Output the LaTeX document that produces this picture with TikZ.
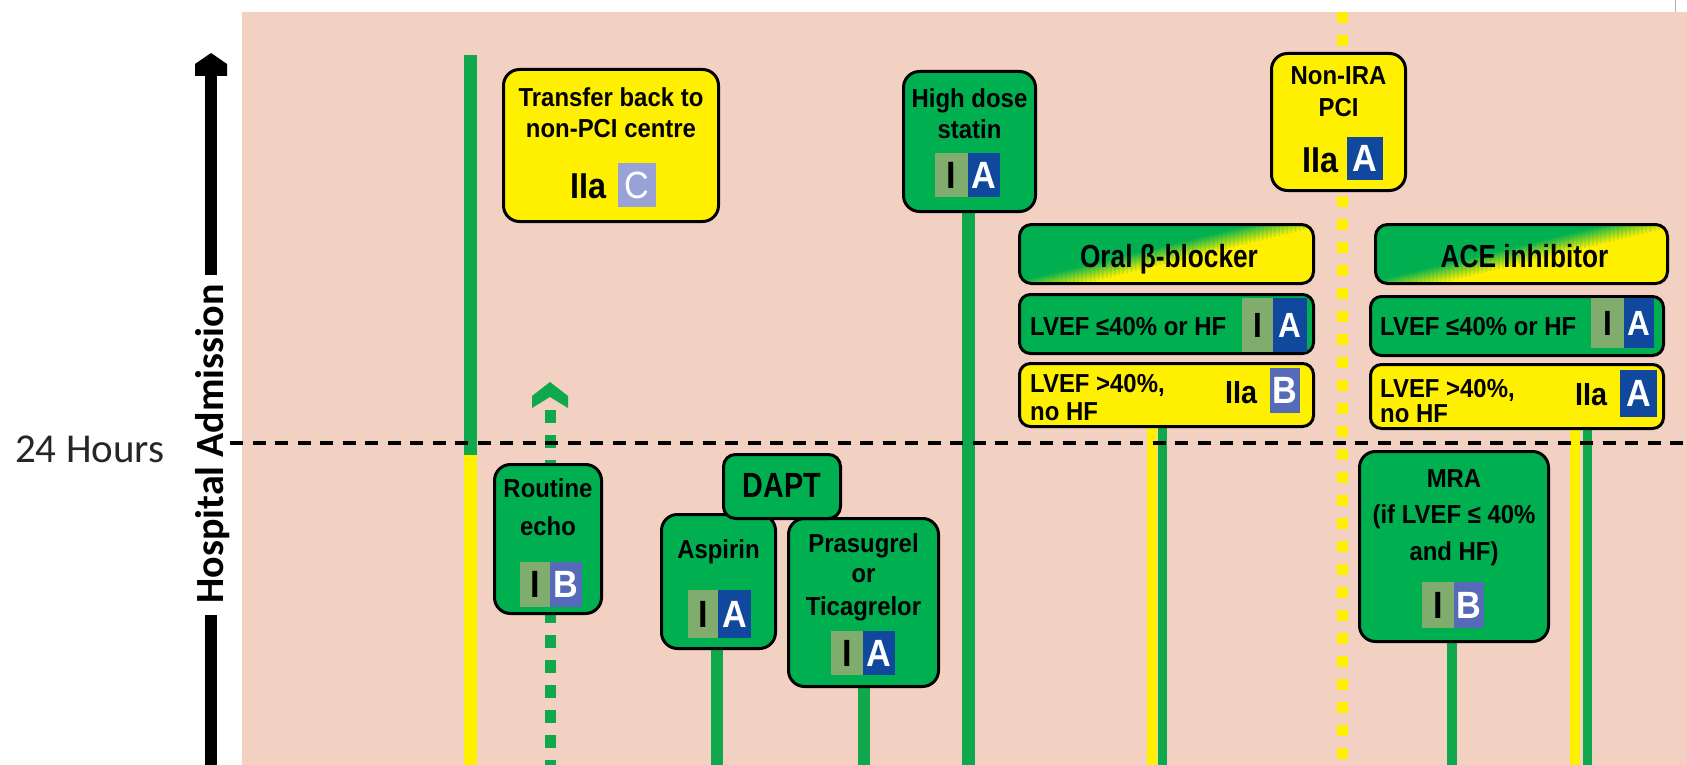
\documentclass[tikz,border=0pt]{standalone}
\usepackage{fontspec}
\setmainfont{Liberation Sans}
\newfontfamily\labfam[FakeStretch=0.92]{Liberation Sans}
\newfontfamily\narfam[FakeStretch=0.82]{Liberation Sans}
\newfontfamily\badfam[FakeStretch=0.9]{Liberation Sans}
\newfontfamily\calfam{Carlito}
\usetikzlibrary{calc}
\pgfdeclarelayer{back}
\pgfdeclarelayer{bg}
\pgfsetlayers{back,bg,main}

\definecolor{pinkbg}{RGB}{242,208,194}
\definecolor{bgreen}{RGB}{0,176,80}
\definecolor{byellow}{RGB}{255,240,0}
\definecolor{lgreen}{RGB}{16,168,76}
\definecolor{icol}{RGB}{128,172,110}
\definecolor{acol}{RGB}{16,72,158}
\definecolor{bcol}{RGB}{86,106,186}
\definecolor{ccol}{RGB}{152,162,214}

\newcommand\labfont{\labfam\bfseries\fontsize{26}{30}\selectfont}
\newcommand\hdrfont{\narfam\bfseries\fontsize{32}{36}\selectfont}
\newcommand\daptfont{\narfam\bfseries\fontsize{35}{40}\selectfont}
\newcommand\cellfont{\badfam\bfseries\fontsize{38}{40}\selectfont}
\newcommand\rowcellfont{\badfam\bfseries\fontsize{35}{38}\selectfont}
\newcommand\iiafont{\badfam\bfseries\fontsize{36}{40}\selectfont}
\newcommand\iiarowfont{\badfam\bfseries\fontsize{32}{36}\selectfont}

% diagonal green-to-yellow fill of a header box: centre x, centre y, half width, half height
\newcommand\headshade[4]{%
  \begin{scope}
    \clip[rounded corners=12pt] (#1-#3,#2-#4) rectangle (#1+#3,#2+#4);
    \fill[bgreen] (#1-#3-5,#2-#4-5) rectangle (#1+#3+5,#2+#4+5);
    \fill[byellow] (#1-200,#2+57.76) -- (#1+200,#2-39.76) -- (#1+200,#2+200) -- (#1-200,#2+200) -- cycle;
    \foreach \k in {0,...,17}{
      \pgfmathsetmacro\gpct{(\k+0.5)/18*100}
      \pgfmathsetmacro\oa{9-\k}
      \pgfmathsetmacro\ob{7.9-\k}
      \fill[bgreen!\gpct!byellow] (#1-200,#2+48.76+\oa) -- (#1+200,#2-48.76+\oa) -- (#1+200,#2-48.76+\ob) -- (#1-200,#2+48.76+\ob) -- cycle;
    }
  \end{scope}}

\tikzset{
 box/.style={draw=black, line width=3pt, rounded corners=16pt, inner sep=0pt, outer sep=0pt},
 gbox/.style={box, fill=bgreen},
 ybox/.style={box, fill=byellow},
 rowg/.style={gbox, rounded corners=11pt},
 rowy/.style={ybox, rounded corners=11pt},
 hbox/.style={box, rounded corners=12pt},
 lab/.style={inner sep=0pt, anchor=base, font=\labfont, text=black},
 labw/.style={lab, anchor=base west},
 hlab/.style={inner sep=0pt, anchor=base, font=\hdrfont, text=black},
 cell/.style={inner sep=0pt, outer sep=0pt, font=\cellfont},
 icell/.style={cell, fill=icol, text=black},
 acell/.style={cell, fill=acol, text=white},
 bcell/.style={cell, fill=bcol, text=white},
 ccell/.style={cell, fill=ccol, text=white},
 iia/.style={inner sep=0pt, anchor=base west, font=\iiafont, text=black},
 gline/.style={draw=lgreen, line width=12pt},
 yline/.style={draw=byellow, line width=10pt},
 axisline/.style={draw=black, line width=12pt},
}

\begin{document}
\begin{tikzpicture}[x=1pt,y=-1pt]
\useasboundingbox (0,0) rectangle (1687,765);
\begin{pgfonlayer}{back}
\fill[white] (0,0) rectangle (1687,765);
\fill[pinkbg] (242,12) rectangle (1687,765);
\draw[black!30, line width=1pt] (1675,0) -- (1675,12);
\end{pgfonlayer}

% ---------- boxes ----------
\node[ybox, minimum width=215pt, minimum height=152pt] (transfer) at (611,145.5) {};
\node[gbox, minimum width=132pt, minimum height=140pt] (statin) at (969.5,141.5) {};
\node[ybox, minimum width=134pt, minimum height=137pt] (nonira) at (1338.5,122) {};
\headshade{1166.5}{254}{147}{29.5}
\node[hbox, minimum width=294pt, minimum height=59pt] (bhead) at (1166.5,254) {};
\node[rowg, minimum width=294pt, minimum height=59pt] (brow1) at (1166.5,324) {};
\node[rowy, minimum width=294pt, minimum height=63pt] (brow2) at (1166.5,395) {};
\headshade{1521.5}{254}{146}{29.5}
\node[hbox, minimum width=292pt, minimum height=59pt] (ahead) at (1521.5,254) {};
\node[rowg, minimum width=293pt, minimum height=59pt] (arow1) at (1517,326) {};
\node[rowy, minimum width=293pt, minimum height=64pt] (arow2) at (1517,396.5) {};
\node[gbox, minimum width=107pt, minimum height=149pt] (echo) at (548,539) {};
\node[gbox, minimum width=114pt, minimum height=134pt] (aspirin) at (718.5,581.5) {};
\node[gbox, minimum width=150pt, minimum height=168pt] (prasu) at (863.5,602.5) {};
\node[gbox, rounded corners=12pt, minimum width=117pt, minimum height=64pt] (dapt) at (782,486.5) {};
\node[gbox, minimum width=189pt, minimum height=190pt] (mra) at (1454,546.5) {};

% ---------- texts and badges ----------
\node[lab] (transferT1) at (611,107) {Transfer back to};
\node[lab] (transferT2) at (611,138) {non-PCI centre};
\node[iia] (transferC) at (570,198) {IIa};
\node[ccell, font=\badfam\fontsize{38}{40}\selectfont, minimum width=38pt, minimum height=44pt] (transferL) at (637,185) {C};

\node[lab] (statinT1) at (969.5,108) {High dose};
\node[lab] (statinT2) at (969.5,139) {statin};
\node[icell, minimum width=33pt, minimum height=44pt] (statinI) at (951.5,175) {I};
\node[acell, minimum width=32pt, minimum height=44pt] (statinA) at (984,175) {A};

\node[lab] (niT1) at (1338.5,85) {Non-IRA};
\node[lab] (niT2) at (1338.5,117) {PCI};
\node[iia] (niC) at (1302,172) {IIa};
\node[acell, minimum width=36pt, minimum height=43pt] (niA) at (1365,158.5) {A};

\node[hlab] (bheadT) at (1169,267) {Oral β-blocker};
\node[labw] (brow1T) at (1030,335) {LVEF ≤40\% or HF};
\node[icell, font=\rowcellfont, minimum width=31pt, minimum height=54pt] (brow1I) at (1257.5,325) {I};
\node[acell, font=\rowcellfont, minimum width=34pt, minimum height=54pt] (brow1A) at (1290,325) {A};
\node[labw] (brow2T1) at (1030,392) {LVEF >40\%,};
\node[labw] (brow2T2) at (1030,420) {no HF};
\node[iia, font=\iiarowfont] (brow2C) at (1225,403) {IIa};
\node[bcell, minimum width=30pt, minimum height=45pt] (brow2B) at (1285,390.5) {B};

\node[hlab] (aheadT) at (1524.5,267) {ACE inhibitor};
\node[labw] (arow1T) at (1380,335) {LVEF ≤40\% or HF};
\node[icell, font=\rowcellfont, minimum width=33pt, minimum height=50pt] (arow1I) at (1607.5,323) {I};
\node[acell, font=\rowcellfont, minimum width=30pt, minimum height=50pt] (arow1A) at (1639,323) {A};
\node[labw] (arow2T1) at (1380,397) {LVEF >40\%,};
\node[labw] (arow2T2) at (1380,422) {no HF};
\node[iia, font=\iiarowfont] (arow2C) at (1575,405) {IIa};
\node[acell, minimum width=37pt, minimum height=47pt] (arow2A) at (1638.5,393.5) {A};

\node[lab] (echoT1) at (548,497) {Routine};
\node[lab] (echoT2) at (548,535) {echo};
\node[icell, minimum width=30pt, minimum height=45pt] (echoI) at (535,584.5) {I};
\node[bcell, minimum width=32pt, minimum height=45pt] (echoB) at (566,584.5) {B};

\node[lab, font=\daptfont] (daptT) at (782,497) {DAPT};

\node[lab] (aspT) at (718.5,558) {Aspirin};
\node[icell, minimum width=30pt, minimum height=48pt] (aspI) at (703,614) {I};
\node[acell, minimum width=33pt, minimum height=48pt] (aspA) at (734.5,614) {A};

\node[lab] (prT1) at (863.5,552) {Prasugrel};
\node[lab] (prT2) at (863.5,582) {or};
\node[lab] (prT3) at (863.5,615) {Ticagrelor};
\node[icell, minimum width=32pt, minimum height=44pt] (prI) at (847,653) {I};
\node[acell, minimum width=32pt, minimum height=44pt] (prA) at (879,653) {A};

\node[lab] (mraT1) at (1454,487) {MRA};
\node[lab] (mraT2) at (1454,523) {(if LVEF ≤ 40\%};
\node[lab] (mraT3) at (1454,560) {and HF)};
\node[icell, minimum width=32pt, minimum height=46pt] (mraI) at (1438,605) {I};
\node[bcell, minimum width=30pt, minimum height=46pt] (mraB) at (1469,605) {B};

% ---------- time axis ----------
\coordinate (axtip) at (211,53);
\coordinate (axtop) at (211,74);
\coordinate (axmid) at (211,275);
\coordinate (axlow) at (211,615);
\coordinate (axbot) at (211,765);
\fill[black] (axtip) -- (227,64) -- (227,76) -- (195,76) -- (195,64) -- cycle;
\draw[axisline] (axtop) -- (axmid);
\draw[axisline] (axlow) -- (axbot);
\node[font=\calfam\bfseries\fontsize{40}{44}\selectfont, rotate=90, anchor=base, inner sep=0pt] (hadm) at (223,444) {Hospital Admission};
\node[font=\calfam\fontsize{41}{44}\selectfont, anchor=base west, inner sep=0pt, text=black!85] (h24) at (15,462) {24 Hours};

% ---------- connectors ----------
\begin{pgfonlayer}{bg}
\coordinate (bot) at (0,765);
\coordinate (gtop) at (470,55);
\coordinate (gmid) at (470,455);
\coordinate (gbot) at (470,765);
\draw[gline, line width=13pt] (gtop) -- (gmid);
\draw[yline, line width=13pt] (gmid) -- (gbot);

\coordinate (statinS) at ([xshift=-1.5pt]statin.south);
\draw[gline, line width=13pt] (statinS) -- (statinS |- bot);
\coordinate (aspS) at ([xshift=-1.5pt]aspirin.south);
\draw[gline] (aspS) -- (aspS |- bot);
\draw[gline] (prasu.south) -- (prasu.south |- bot);
\coordinate (mraS) at ([xshift=-2pt]mra.south);
\draw[gline, line width=10pt] (mraS) -- (mraS |- bot);

\coordinate (bY) at ([xshift=-14.5pt]brow2.south);
\coordinate (bG) at ([xshift=-4pt]brow2.south);
\draw[yline] (bY) -- (bY |- bot);
\draw[gline, line width=9pt] (bG) -- (bG |- bot);
\coordinate (aY) at ([xshift=58pt]arow2.south);
\coordinate (aG) at ([xshift=70pt]arow2.south);
\draw[yline] (aY) -- (aY |- bot);
\draw[gline, line width=9pt] (aG) -- (aG |- bot);

% dotted echo arrow
\coordinate (echoTip) at (550,382);
\coordinate (echoTail) at (550,410);
\coordinate (echoBot) at (550,765);
\draw[gline, line width=11pt, dash pattern=on 13pt off 12pt] (echoTail) -- (echoBot);
\fill[lgreen] (echoTip) -- (568,396) -- (568,408) -- (550,397) -- (532,408) -- (532,396) -- cycle;

% dotted non-IRA line
\coordinate (ydTop) at (1342,12);
\coordinate (ydBot) at (1342,765);
\draw[draw=byellow, line width=11pt, dash pattern=on 11pt off 12pt] (ydTop) -- (ydBot);

% 24 hours dashed line
\coordinate (dashL) at (230,443);
\coordinate (dashR) at (1687,443);
\draw[black, line width=4pt, dash pattern=on 13pt off 9.5pt] (dashL) -- (dashR);
\end{pgfonlayer}
\end{tikzpicture}
\end{document}
